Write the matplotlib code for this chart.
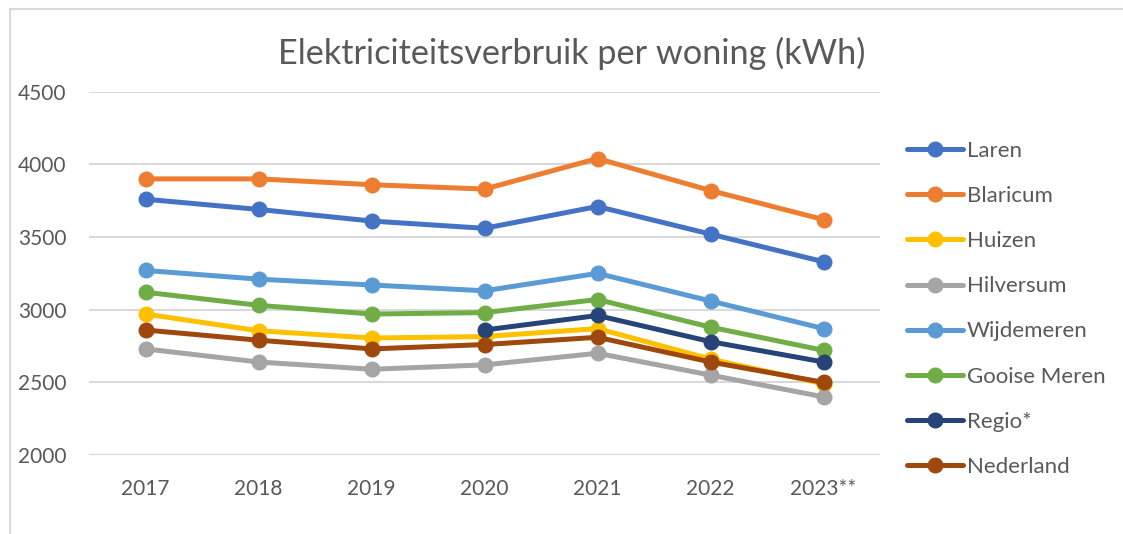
import matplotlib
matplotlib.use("Agg")
import matplotlib.pyplot as plt
import numpy as np
from matplotlib.lines import Line2D

years = ["2017", "2018", "2019", "2020", "2021", "2022", "2023**"]
laren = [3760, 3690, 3610, 3560, 3710, 3520, 3330]
blaricum = [3900, 3900, 3860, 3830, 4040, 3820, 3620]
huizen = [2970, 2855, 2805, 2815, 2870, 2660, 2490]
hilversum = [2730, 2640, 2590, 2620, 2700, 2550, 2400]
wijdemeren = [3270, 3210, 3170, 3130, 3250, 3060, 2870]
gooise_meren = [3120, 3030, 2970, 2980, 3070, 2880, 2720]
regio = [np.nan, np.nan, np.nan, 2860, 2960, 2780, 2640]
nederland = [2860, 2790, 2730, 2760, 2810, 2640, 2500]

series = [
    ("Laren", laren, "#4472C4"),
    ("Blaricum", blaricum, "#ED7D31"),
    ("Huizen", huizen, "#FFC000"),
    ("Hilversum", hilversum, "#A5A5A5"),
    ("Wijdemeren", wijdemeren, "#5B9BD5"),
    ("Gooise Meren", gooise_meren, "#70AD47"),
    ("Regio*", regio, "#264478"),
    ("Nederland", nederland, "#9E480E"),
]

plt.rcParams['font.family'] = ['Lato', 'DejaVu Sans']
W, H = 1123, 534
fig = plt.figure(figsize=(W / 100, H / 100), dpi=100)
fig.patch.set_facecolor("white")

# outer chart frame (left and top edges visible)
fig.add_artist(Line2D([10 / W, 10 / W], [0, 1 - 9 / H], transform=fig.transFigure, color="#D9D9D9", lw=1.5))
fig.add_artist(Line2D([10 / W, 1], [1 - 9 / H, 1 - 9 / H], transform=fig.transFigure, color="#D9D9D9", lw=1.5))

ax = fig.add_axes([89 / W, 1 - 455 / H, (880 - 89) / W, (455 - 91.7) / H])
x = np.arange(len(years))
for name, vals, col in series:
    ax.plot(x, vals, color=col, lw=3.6, marker="o", markersize=10.5, label=name,
            solid_capstyle="round")

ax.set_xlim(-0.5, len(years) - 0.5)
ax.set_ylim(2000, 4500)
ax.set_yticks([2000, 2500, 3000, 3500, 4000, 4500])
ax.set_xticks(x)
ax.set_xticklabels(years)
ax.grid(axis="y", color="#D9D9D9", lw=1.5)
ax.set_axisbelow(True)
for s in ax.spines.values():
    s.set_visible(False)
ax.tick_params(axis="both", length=0, labelsize=15, colors="#595959")
ax.tick_params(axis="y", pad=16)
ax.tick_params(axis="x", pad=17)

fig.text(572 / W, 1 - 53 / H, "Elektriciteitsverbruik per woning (kWh)", ha="center", va="center",
         fontsize=24.7, color="#595959")

leg = fig.legend(loc="upper left", bbox_to_anchor=(907 / W, 1 - 141 / H), frameon=False,
                 fontsize=16, labelspacing=1.13, handlelength=2.5, handletextpad=0.2,
                 labelcolor="#595959", borderaxespad=0, borderpad=0)

fig.savefig("out.png", dpi=100)
